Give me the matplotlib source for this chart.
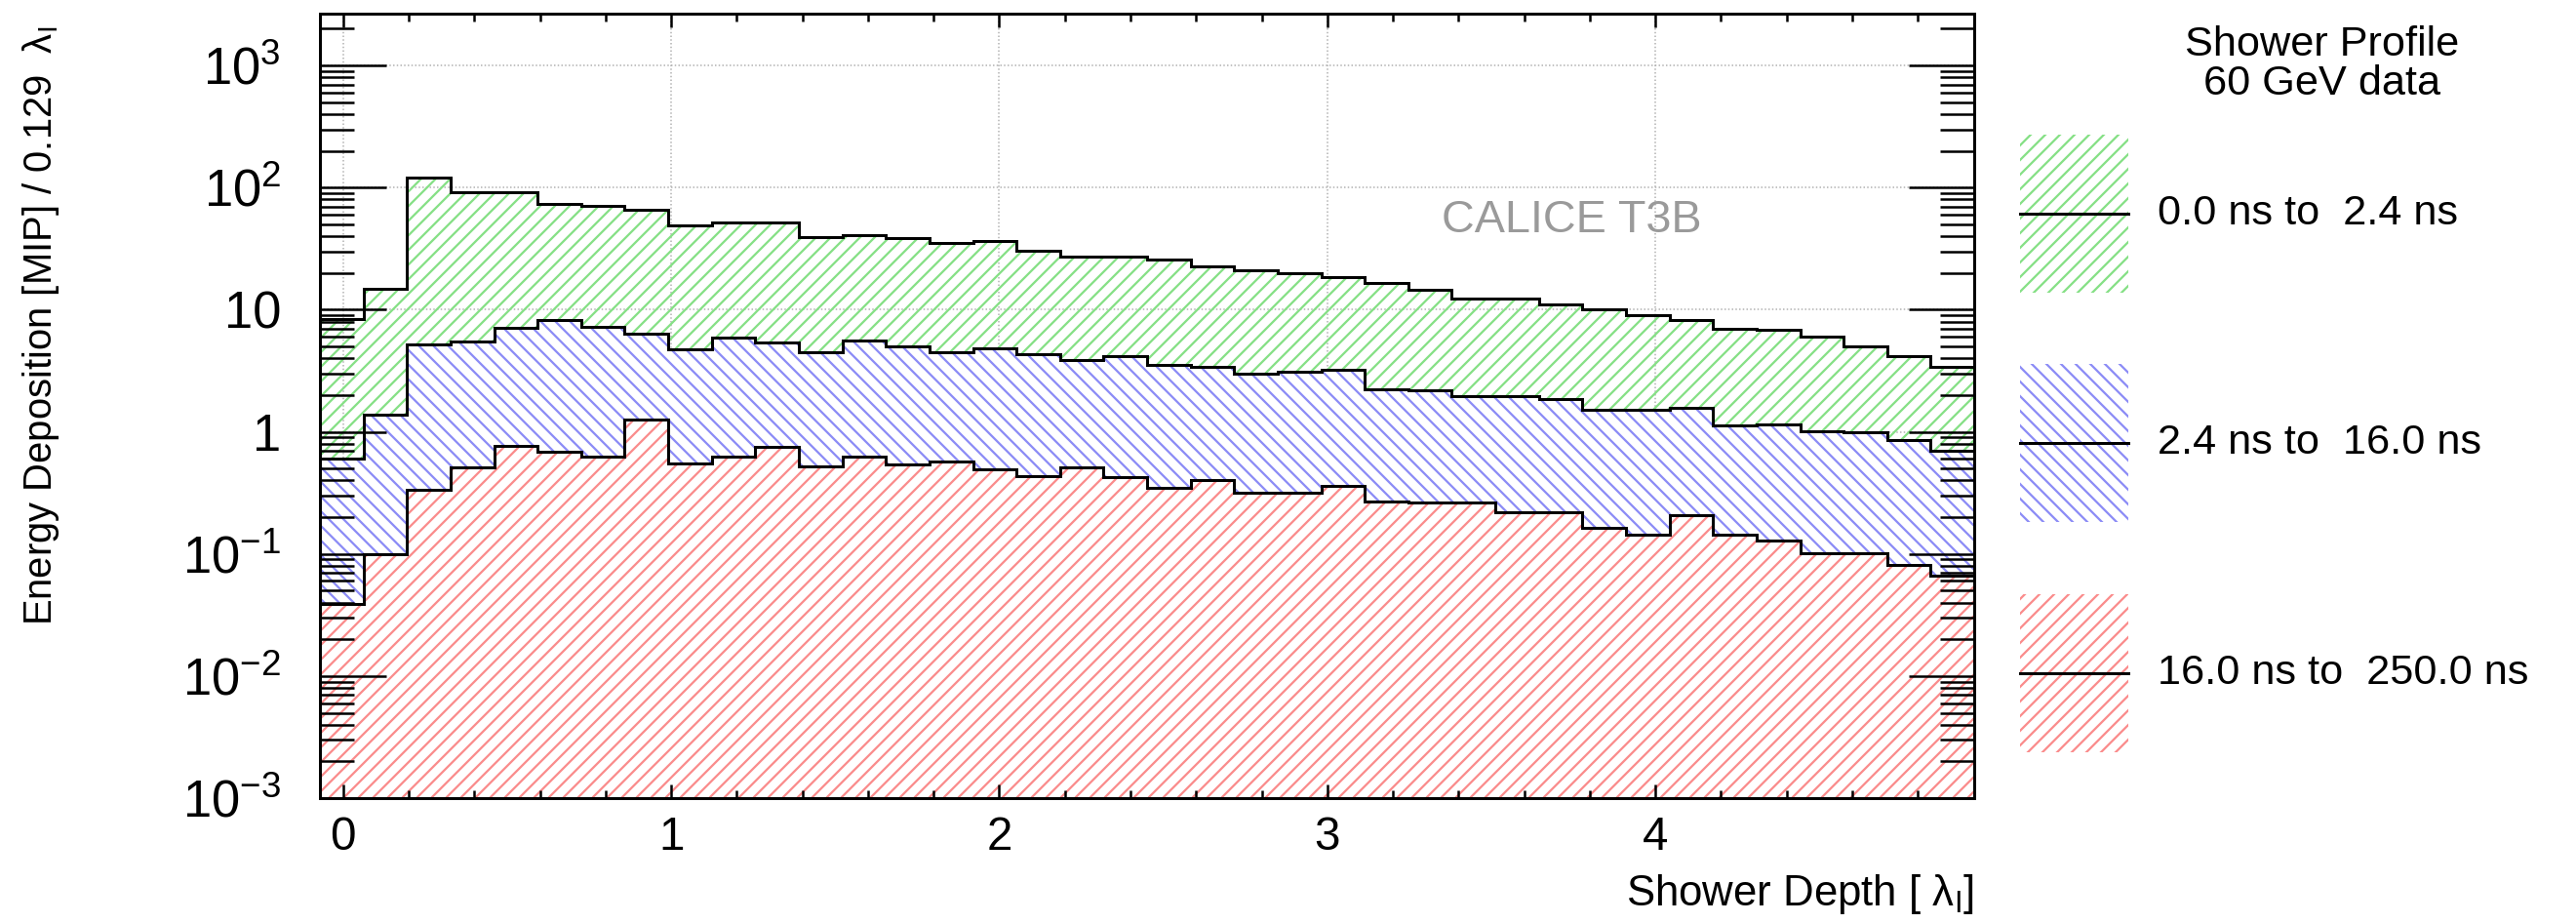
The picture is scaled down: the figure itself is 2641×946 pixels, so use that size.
import numpy as np
import matplotlib
matplotlib.use('Agg')
import matplotlib.pyplot as plt
from matplotlib.patches import Rectangle
from matplotlib.lines import Line2D
from matplotlib.ticker import MultipleLocator, LogLocator, FixedLocator, FuncFormatter, NullFormatter

plt.rcParams['font.family'] = ['Liberation Sans', 'DejaVu Sans']
plt.rcParams['mathtext.fontset'] = 'custom'
plt.rcParams['mathtext.rm'] = 'Liberation Sans'
plt.rcParams['mathtext.it'] = 'Liberation Sans:italic'
plt.rcParams['mathtext.bf'] = 'Liberation Sans:bold'
plt.rcParams['hatch.linewidth'] = 0.9

# shower depth binning (lambda_I)
first_edge = -0.0707
bin_width = 0.1327
n_bins = 38

# energy per bin [MIP] for the three time windows
e_prompt = [8.4, 14.9, 120, 92, 91, 73, 70.6, 65.6, 49.3, 51.4,
            51.4, 39.5, 40.7, 38.6, 35.5, 36.6, 30.6, 27.3, 27.3, 25.6,
            22.8, 21.0, 19.9, 18.4, 16.6, 14.5, 12.4, 12.4, 11.1, 10.0,
            9.0, 8.2, 7.0, 6.8, 6.0, 5.0, 4.2, 3.4]
e_medium = [0.6, 1.39, 5.2, 5.5, 7.1, 8.2, 7.2, 6.4, 4.7, 5.9,
            5.4, 4.5, 5.6, 5.0, 4.5, 4.83, 4.3, 3.9, 4.15, 3.53,
            3.41, 2.97, 3.1, 3.2, 2.23, 2.18, 1.97, 1.97, 1.87, 1.51,
            1.51, 1.58, 1.12, 1.15, 1.01, 1.0, 0.86, 0.70]
e_late = [0.039, 0.099, 0.334, 0.51, 0.77, 0.69, 0.63, 1.25, 0.547, 0.63,
          0.76, 0.52, 0.625, 0.54, 0.567, 0.497, 0.432, 0.512, 0.428, 0.345,
          0.40, 0.316, 0.316, 0.359, 0.27, 0.264, 0.264, 0.218, 0.218, 0.164,
          0.143, 0.207, 0.143, 0.129, 0.101, 0.101, 0.082, 0.066]

labels = ['0.0 ns to  2.4 ns', '2.4 ns to  16.0 ns', '16.0 ns to  250.0 ns']
hatch_colors = ['#86e086', '#8c8cf6', '#fa8c8c']
hatches = ['////', '\\\\\\\\', '////']
backgrounds = ['none', 'white', 'white']
decades = [-3, -2, -1, 0, 1, 2, 3]

y_min, y_max = 1e-3, 2660
edges = first_edge + bin_width * np.arange(n_bins + 1)

fig = plt.figure(figsize=(2641 / 180, 946 / 180), dpi=180)
ax = fig.add_axes([0.1242, 0.1353, 0.6422, 0.8499])

# dotted grid underneath the hatched histograms
for xv in range(5):
    ax.axvline(xv, color='#b0b0b0', lw=0.6, ls=(0, (1, 1.5)), zorder=0.5)
for e in decades[1:]:
    ax.axhline(10.0 ** e, color='#b0b0b0', lw=0.6, ls=(0, (1, 1.5)), zorder=0.5)

series = [e_prompt, e_medium, e_late]
for i, vals in enumerate(series):
    ax.stairs(vals, edges, baseline=y_min, fill=True, facecolor=backgrounds[i],
              edgecolor=hatch_colors[i], hatch=hatches[i], linewidth=0,
              zorder=1 + 0.1 * i)
for vals in series:
    ax.stairs(vals, edges, baseline=None, color='black', linewidth=1.2, zorder=2)

ax.set_yscale('log')
ax.set_xlim(edges[0], edges[-1])
ax.set_ylim(y_min, y_max)

ax.xaxis.set_major_locator(MultipleLocator(1))
ax.xaxis.set_minor_locator(MultipleLocator(0.2))
ax.yaxis.set_major_locator(FixedLocator([10.0 ** e for e in decades]))
ax.yaxis.set_minor_locator(LogLocator(base=10, subs=np.arange(2, 10), numticks=20))
ax.yaxis.set_minor_formatter(NullFormatter())


def decade_label(v, pos):
    e = int(round(np.log10(v)))
    if e == 0:
        return '1'
    if e == 1:
        return '10'
    return '$10^{%d}$' % e


ax.yaxis.set_major_formatter(FuncFormatter(decade_label))

ax.tick_params(axis='both', which='both', direction='in', top=True, right=True,
               width=1.0, color='black')
ax.tick_params(axis='y', which='major', length=27, pad=16, labelsize=21)
ax.tick_params(axis='y', which='minor', length=14)
ax.tick_params(axis='x', which='major', length=5.6, pad=7, labelsize=19)
ax.tick_params(axis='x', which='minor', length=3.2)
for sp in ax.spines.values():
    sp.set_linewidth(1.2)

ax.set_xlabel('Shower Depth [ λ$_{\\mathrm{I}}$]', loc='right', fontsize=17.5)
ax.xaxis.set_label_coords(1.0, -0.095)
ax.set_ylabel('Energy Deposition [MIP] / 0.129  λ$_{\\mathrm{I}}$', loc='top',
              fontsize=16)
ax.yaxis.set_label_coords(-0.156, 0.985)

ax.text(0.7565, 0.736, 'CALICE T3B', transform=ax.transAxes, color='#9a9a9a',
        fontsize=18.7, ha='center', va='center')

# legend panel to the right of the frame
fig.text(0.9015, 0.951, 'Shower Profile', ha='center', va='center', fontsize=17.3)
fig.text(0.9015, 0.909, '60 GeV data', ha='center', va='center', fontsize=17.3)
box_x0, box_w = 0.7842, 0.0420
box_bottoms = [0.6829, 0.4345, 0.1850]
box_h = 0.1712
for i in range(3):
    fig.add_artist(Rectangle((box_x0, box_bottoms[i]), box_w, box_h,
                             transform=fig.transFigure, facecolor='white',
                             edgecolor=hatch_colors[i], hatch=hatches[i], linewidth=0))
    yc = box_bottoms[i] + box_h / 2
    fig.add_artist(Line2D([box_x0, box_x0 + box_w], [yc, yc],
                          transform=fig.transFigure, color='black', lw=1.2))
    fig.text(0.8375, yc, labels[i], ha='left', va='center', fontsize=17.3)

fig.savefig('out.png', dpi=180)
